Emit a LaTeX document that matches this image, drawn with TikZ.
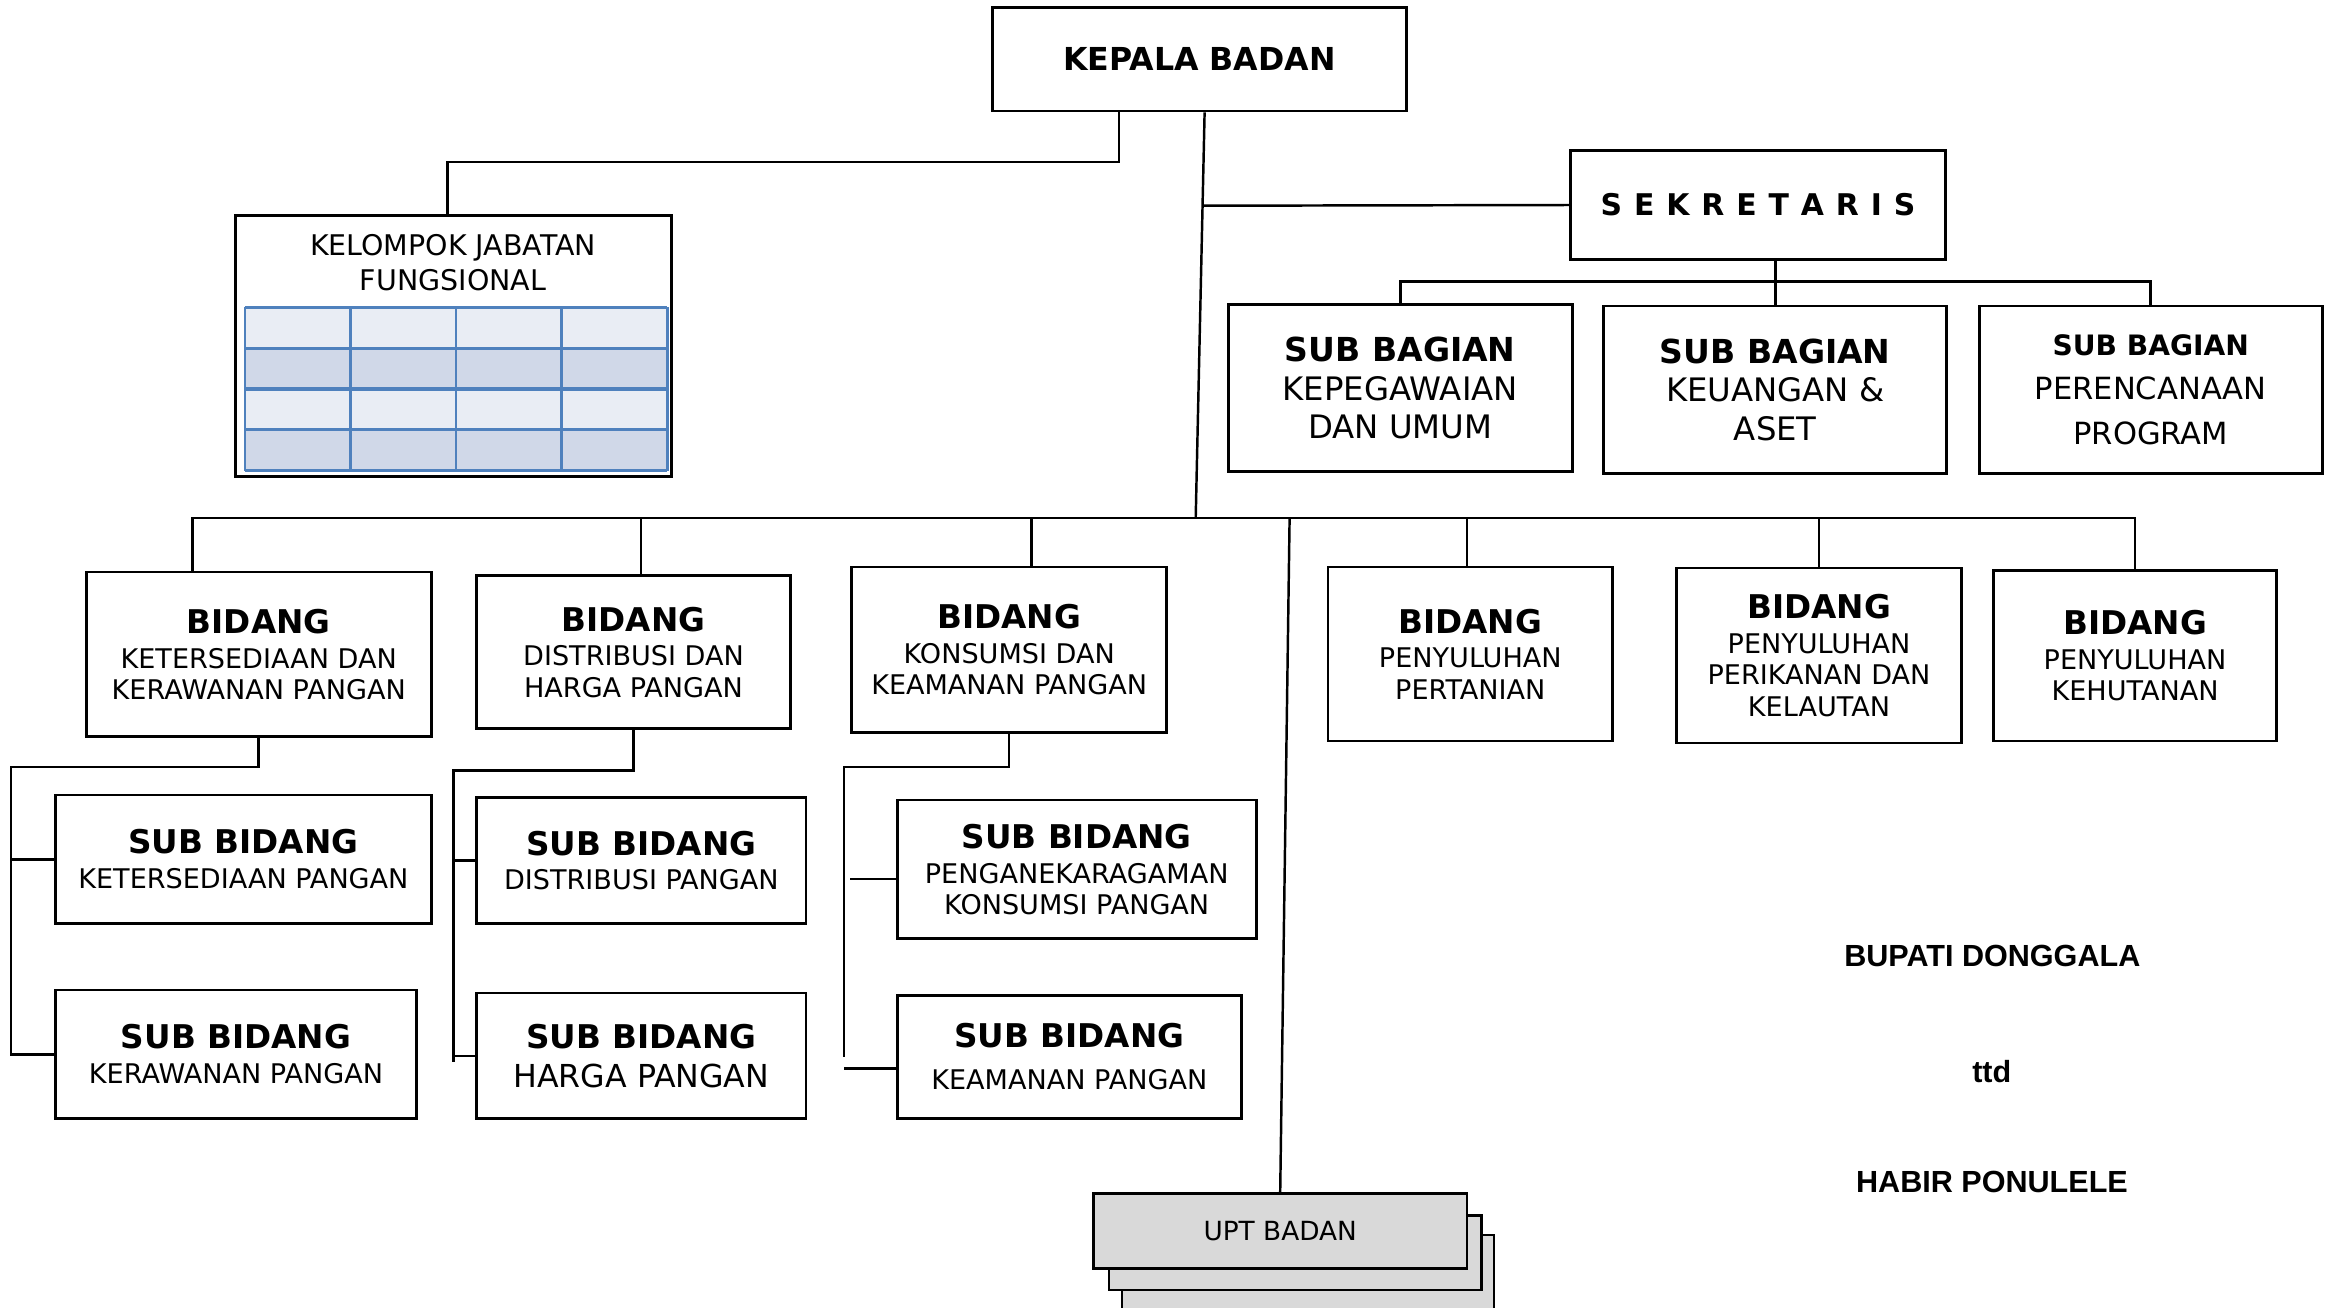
\documentclass[tikz,border=0pt]{standalone}
\usepackage{fontspec}
\setmainfont{DejaVu Sans}
\newfontfamily\arialfont{Liberation Sans}
\usepackage{tikz}
\usetikzlibrary{calc}
\definecolor{tabgaris}{HTML}{4F81BD}
\definecolor{tabmuda}{HTML}{E9EDF4}
\definecolor{tabtua}{HTML}{D0D8E8}
\definecolor{abuupt}{HTML}{D9D9D9}
\newcommand{\jdl}[1]{{\fontsize{9.3}{10}\selectfont\bfseries #1}}
\tikzset{
  kotak/.style={ draw, line width=0.8pt, align=center, inner sep=1pt, font=\fontsize{7.7}{8.9}\selectfont }
}
\tikzset{
  kotakbagian/.style={ kotak, font=\fontsize{9.2}{11}\selectfont }
}
\tikzset{
  kotakupt/.style={ draw, line width=0.8pt, fill=abuupt, minimum width=3.73cm, minimum height=0.75cm, font=\fontsize{7.5}{9}\selectfont }
}
\tikzset{
  tandatangan/.style={ font=\arialfont\bfseries\fontsize{8.7}{10}\selectfont }
}
\tikzset{
  garis/.style={ line width=0.7pt }
}

\begin{document}
\begin{tikzpicture}[y=1cm, x=1cm]
      \useasboundingbox (0,0) rectangle (23.32,-13.07);

      \node[kotak, minimum width=4.137cm, minimum height=1.037cm, font=\fontsize{9}{10}\selectfont\bfseries] (kepala) at (11.995,-0.592) {KEPALA BADAN};
      \node[kotak, minimum width=3.747cm, minimum height=1.086cm, font=\fontsize{8.5}{10}\selectfont\bfseries\addfontfeature{LetterSpace=5}] (sekretaris) at (17.58,-2.05) {S E K R E T A R I S};

      \node[kotakbagian, minimum width=3.437cm, minimum height=1.674cm] (sb1) at (14.003,-3.88) {{\fontsize{9.4}{11}\selectfont\bfseries SUB BAGIAN}\\ KEPEGAWAIAN\\ DAN UMUM};
      \node[kotakbagian, minimum width=3.43cm, minimum height=1.673cm] (sb2) at (17.753,-3.897) {{\fontsize{9.4}{11}\selectfont\bfseries SUB BAGIAN}\\ KEUANGAN \&\\ ASET};
      \node[kotak, minimum width=3.43cm, minimum height=1.673cm, font=\fontsize{8.7}{12.7}\selectfont] (sb3) at (21.507,-3.897) {{\fontsize{8}{12.7}\selectfont\bfseries SUB BAGIAN}\\ PERENCANAAN\\ PROGRAM};

      % jabatan fungsional
      \node[draw, line width=0.8pt, minimum width=4.355cm, minimum height=2.61cm] (jabfung) at (4.535,-3.462) {};
      \node[align=center, font=\fontsize{8.1}{10}\selectfont] (jabfungteks) at (4.53,-2.625) {KELOMPOK JABATAN\\ FUNGSIONAL};
      \foreach \r/\w in {0/tabmuda,1/tabtua,2/tabmuda,3/tabtua}
        \fill[\w] (2.449,{-3.073-0.4085*\r}) rectangle (6.673,{-3.073-0.4085*(\r+1)});
      \foreach \r in {0,...,4}
        \draw[tabgaris, line width=0.9pt] (2.449,{-3.073-0.4085*\r}) -- (6.673,{-3.073-0.4085*\r});
      \foreach \k in {0,...,4}
        \draw[tabgaris, line width=0.7pt] ({2.449+1.056*\k},-3.073) -- ({2.449+1.056*\k},-4.707);

      % bidang
      \node[kotak, minimum width=3.45cm, minimum height=1.647cm] (b1) at (2.587,-6.544) {\jdl{BIDANG}\\[1pt] KETERSEDIAAN DAN\\ KERAWANAN PANGAN};
      \node[kotak, minimum width=3.134cm, minimum height=1.528cm] (b2) at (6.335,-6.521) {\jdl{BIDANG}\\[1pt] DISTRIBUSI DAN\\ HARGA PANGAN};
      \node[kotak, minimum width=3.151cm, minimum height=1.657cm] (b3) at (10.092,-6.498) {\jdl{BIDANG}\\[1pt] KONSUMSI DAN\\ KEAMANAN PANGAN};
      \node[kotak, minimum width=2.845cm, minimum height=1.74cm] (b4) at (14.703,-6.539) {\jdl{BIDANG}\\[1pt] PENYULUHAN\\ PERTANIAN};
      \node[kotak, minimum width=2.853cm, minimum height=1.75cm] (b5) at (18.19,-6.554) {\jdl{BIDANG}\\[1pt] PENYULUHAN\\ PERIKANAN DAN\\ KELAUTAN};
      \node[kotak, minimum width=2.829cm, minimum height=1.704cm] (b6) at (21.35,-6.557) {\jdl{BIDANG}\\[1pt] PENYULUHAN\\ KEHUTANAN};

      % sub bidang
      \node[kotak, minimum width=3.756cm, minimum height=1.287cm] (s11) at (2.434,-8.593) {\jdl{SUB BIDANG}\\[1pt] KETERSEDIAAN PANGAN};
      \node[kotak, minimum width=3.607cm, minimum height=1.286cm] (s12) at (2.36,-10.543) {\jdl{SUB BIDANG}\\[1pt] KERAWANAN PANGAN};
      \node[kotak, minimum width=3.292cm, minimum height=1.261cm] (s21) at (6.414,-8.606) {\jdl{SUB BIDANG}\\[1pt] DISTRIBUSI PANGAN};
      \node[kotak, minimum width=3.292cm, minimum height=1.256cm, font=\fontsize{9}{11}\selectfont] (s22) at (6.414,-10.558) {\jdl{SUB BIDANG}\\ HARGA PANGAN};
      \node[kotak, minimum width=3.59cm, minimum height=1.385cm] (s31) at (10.767,-8.693) {\jdl{SUB BIDANG}\\[1pt] PENGANEKARAGAMAN\\ KONSUMSI PANGAN};
      \node[kotak, minimum width=3.441cm, minimum height=1.235cm] (s32) at (10.693,-10.569) {\jdl{SUB BIDANG}\\[3pt] KEAMANAN PANGAN};

      % upt
      \node[kotakupt, minimum width=3.72cm] (upt3) at (13.08,-12.725) {};
      \node[kotakupt, minimum width=3.728cm, minimum height=0.746cm] (upt2) at (12.953,-12.527) {};
      \node[kotakupt, minimum width=3.737cm, minimum height=0.752cm] (upt) at (12.802,-12.308) {UPT BADAN};

      % pengesahan
      \node[tandatangan] (bupati) at (19.923,-9.555) {BUPATI DONGGALA};
      \node[tandatangan] (ttd) at (19.918,-10.713) {ttd};
      \node[tandatangan] (nama) at (19.92,-11.819) {HABIR PONULELE};

      % garis
      \coordinate (bus) at (11.957,-5.18);
      \coordinate (cabsek) at (12.025,-2.057);
      \coordinate (busupt) at (12.896,-5.18);
      \coordinate (k1) at (0.108,-10.543);
      \coordinate (k2) at (4.536,-10.62);
      \coordinate (k3) at (8.441,-10.569);

      \draw[garis] ([xshift=0.051cm]kepala.south) -- (bus);
      \draw[garis] (cabsek) -- (sekretaris.west);
      \draw[garis] ([xshift=-0.806cm]kepala.south) -- ++(0,-0.497) -| ([xshift=-0.058cm]jabfung.north);

      \draw[garis] (sekretaris.south -| sb2.north) -- (sb2.north);
      \draw[garis] (sb1.north) -- ++(0,0.216) -| (sb3.north);

      \draw[garis] ([xshift=-0.663cm]b1.north) |- (bus);
      \draw[garis] ([xshift=0.075cm]b2.north) |- (bus);
      \draw[garis] ([xshift=0.223cm]b3.north) |- (bus);
      \draw[garis] ([xshift=-0.033cm]b4.north) |- (bus);
      \draw[garis] (b5.north) |- (bus);
      \draw[garis] (b6.north) |- (bus);
      \draw[garis] (busupt) -- (upt.north);

      \draw[garis] (b1.south) -- ++(0,-0.289) -| (k1) -- (s12.west);
      \draw[garis] (k1 |- s11.west) -- (s11.west);
      \draw[garis] (b2.south) -- ++(0,-0.407) -| (k2);
      \draw[garis] (k2 |- s21.west) -- (s21.west);
      \draw[garis] (k2 |- s22.west) -- (s22.west);
      \draw[garis] (b3.south) -- ++(0,-0.33) -| (k3);
      \draw[garis] ([xshift=0.06cm,yshift=-0.095cm]k3 |- s31.west) -- ([yshift=-0.095cm]s31.west);
      \draw[garis] ([yshift=-0.118cm]k3 |- s32.west) -- ([yshift=-0.118cm]s32.west);
    \end{tikzpicture}
\end{document}
